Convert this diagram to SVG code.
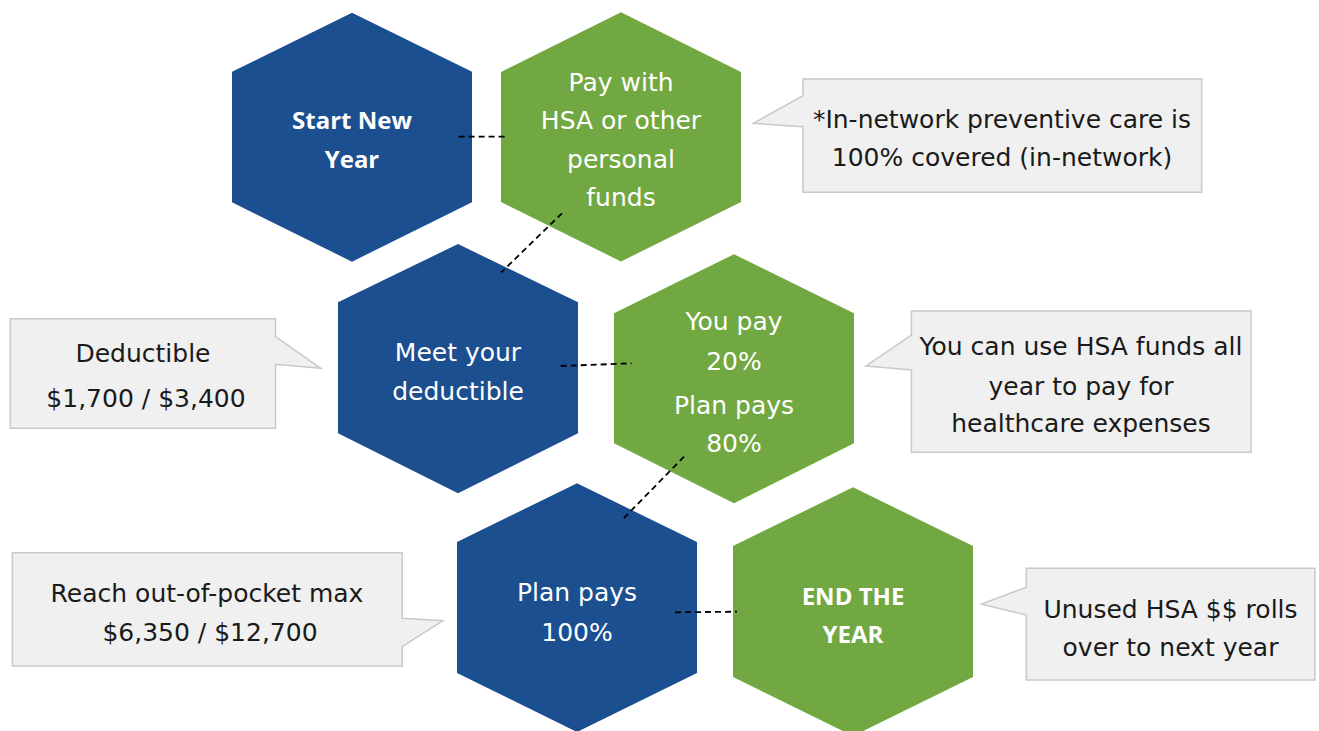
<svg xmlns="http://www.w3.org/2000/svg" width="1319" height="731" viewBox="0 0 1319 731">
<style>
.blue{fill:#1C4F8F}
.green{fill:#71A842}
.ht{font-family:"DejaVu Sans",sans-serif;font-size:25px;fill:#fff;text-anchor:middle}
.hb{font-family:"Open Sans",sans-serif;font-weight:bold;font-size:24px;fill:#fff;text-anchor:middle}
.co{fill:#F0F0F0;stroke:#C9C9C9;stroke-width:1.5}
.ct{font-family:"DejaVu Sans",sans-serif;font-size:25px;fill:#1a1a1a;text-anchor:middle}
.dash{stroke:#000;stroke-width:1.8;stroke-dasharray:6 4;fill:none}
</style>
<rect width="1319" height="731" fill="#fff"/>
<g id="node-start">
<polygon class="blue" points="352,12.7 472,71.7 472,202.3 352,261.7 232,202.3 232,71.7"/>
<text class="hb" x="352" y="128.5">Start New</text>
<text class="hb" x="352" y="167.5">Year</text>
</g>
<g id="node-pay">
<polygon class="green" points="621,12.3 741,72 741,202 621,261.5 501,202 501,72"/>
<text class="ht" x="621" y="90.5">Pay with</text>
<text class="ht" x="621" y="128.5">HSA or other</text>
<text class="ht" x="621" y="167.5">personal</text>
<text class="ht" x="621" y="205.5">funds</text>
</g>
<g id="node-deductible">
<polygon class="blue" points="458,244 578,302.3 578,433.3 458,493.3 338,433.3 338,302.3"/>
<text class="ht" x="458" y="361">Meet your</text>
<text class="ht" x="458" y="399.5">deductible</text>
</g>
<g id="node-coins">
<polygon class="green" points="734,254.3 854,313.3 854,443.3 734,503.3 614,443.3 614,313.3"/>
<text class="ht" x="734" y="329.5">You pay</text>
<text class="ht" x="734" y="369.5">20%</text>
<text class="ht" x="734" y="413.5">Plan pays</text>
<text class="ht" x="734" y="452">80%</text>
</g>
<g id="node-oop">
<polygon class="blue" points="577,483.3 697,542 697,673 577,732 457,673 457,542"/>
<text class="ht" x="577" y="600.5">Plan pays</text>
<text class="ht" x="577" y="640.5">100%</text>
</g>
<g id="node-end">
<polygon class="green" points="853,487.3 973,546 973,677 853,736 733,677 733,546"/>
<text class="hb" x="853" y="605">END THE</text>
<text class="hb" x="853" y="643">YEAR</text>
</g>
<g id="callout-preventive">
<path class="co" d="M803,79 H1201.7 V192.3 H803 V126.7 L753.3,123.3 L803,95.7 Z"/>
<text class="ct" x="1002" y="127.5">*In-network preventive care is</text>
<text class="ct" x="1002" y="166">100% covered (in-network)</text>
</g>
<g id="callout-deductible">
<path class="co" d="M10.3,318.7 H275.5 V336.7 L320.7,368.3 L275.5,364.3 V428.3 H10.3 Z"/>
<text class="ct" x="143" y="361.5">Deductible</text>
<text class="ct" x="146" y="407">$1,700 / $3,400</text>
</g>
<g id="callout-hsa">
<path class="co" d="M911.4,311 H1251 V452.3 H911.4 V370 L866,366 L911.4,335 Z"/>
<text class="ct" x="1081" y="355">You can use HSA funds all</text>
<text class="ct" x="1081" y="394.5">year to pay for</text>
<text class="ct" x="1081" y="432">healthcare expenses</text>
</g>
<g id="callout-oopmax">
<path class="co" d="M12.4,552.7 H402.2 V618.3 L443,620.7 L402.2,646.7 V666 H12.4 Z"/>
<text class="ct" x="207" y="602">Reach out-of-pocket max</text>
<text class="ct" x="210" y="640.5">$6,350 / $12,700</text>
</g>
<g id="callout-rollover">
<path class="co" d="M1026.3,568.3 H1315 V680 H1026.3 V615 L981.3,604 L1026.3,587.3 Z"/>
<text class="ct" x="1170.5" y="618">Unused HSA $$ rolls</text>
<text class="ct" x="1170.5" y="655.5">over to next year</text>
</g>
<g id="connectors">
<line class="dash" x1="458.6" y1="136.7" x2="508.6" y2="136.7"/>
<line class="dash" x1="562" y1="213.3" x2="501.3" y2="272.3"/>
<line class="dash" x1="560.7" y1="366" x2="631.6" y2="363.3"/>
<line class="dash" x1="684" y1="456.7" x2="622" y2="520"/>
<line class="dash" x1="675" y1="612.3" x2="737" y2="611.7"/>
</g>
</svg>
